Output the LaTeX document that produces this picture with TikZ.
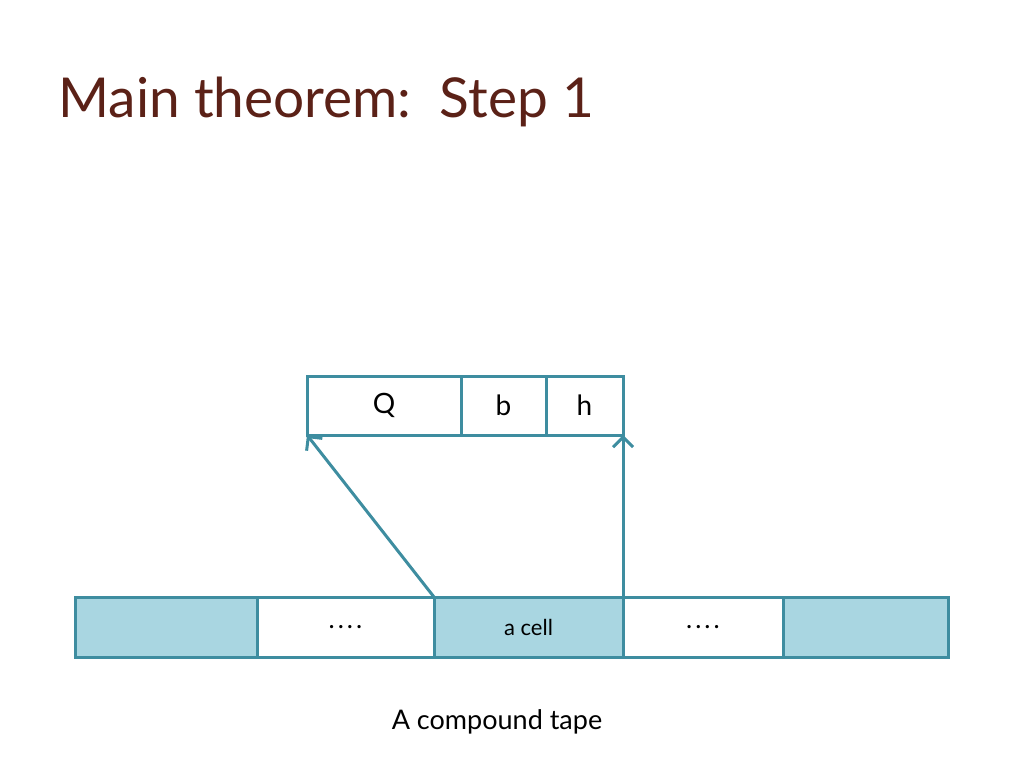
\documentclass[tikz,border=0pt]{standalone}
\usepackage{fontspec}
\setmainfont{Lato}
\usetikzlibrary{arrows.meta,positioning}
\definecolor{tealline}{RGB}{62,141,160}
\definecolor{cellblue}{RGB}{169,214,225}
\definecolor{titlebrown}{RGB}{91,33,23}

\begin{document}
\begin{tikzpicture}[x=1pt,y=-1pt,
      mycell/.style={
         rectangle,
         draw=tealline,
         line width=3pt,
         minimum height=60pt,
         inner sep=0pt,
         outer sep=0pt,
         font=\fontsize{22}{26}\selectfont},
      filledcell/.style={mycell, fill=cellblue},
      fieldcell/.style={mycell, minimum height=59pt, font=\fontsize{28}{32}\selectfont},
      myarrow/.style={-{Straight Barb[length=10pt,width=20pt,line width=3pt]}, draw=tealline, line width=3pt},
      node distance=0pt
      ]
      \useasboundingbox (0,0) rectangle (1024,768);

      \node[anchor=base west, text=titlebrown, font=\fontsize{55}{60}\selectfont] (title) at (55,117) {Main theorem:\ \ Step 1};

      % the compound tape
      \node[filledcell, minimum width=182pt, anchor=north west] (c1) at (75,597) {};
      \node[mycell, minimum width=177pt, right=of c1, font=\fontsize{26}{30}\selectfont] (c2) {.\hspace{3pt}.\hspace{3pt}.\hspace{3pt}.};
      \node[filledcell, minimum width=189pt, right=of c2] (c3) {a cell};
      \node[mycell, minimum width=160pt, right=of c3, font=\fontsize{26}{30}\selectfont] (c4) {.\hspace{3pt}.\hspace{3pt}.\hspace{3pt}.};
      \node[filledcell, minimum width=165pt, right=of c4] (c5) {};

      % the fields of one cell
      \node[fieldcell, minimum width=154pt, anchor=north west] (f1) at (307,376) {Q};
      \node[fieldcell, minimum width=85pt, right=of f1] (f2) {b};
      \node[fieldcell, minimum width=77pt, right=of f2] (f3) {h};

      \draw[myarrow] (c3.north west) -- (f1.south west);
      \draw[myarrow] (c3.north east) -- (f3.south east);

      \node[font=\fontsize{27}{32}\selectfont] (caption) at (497,722) {A compound tape};
\end{tikzpicture}
\end{document}
